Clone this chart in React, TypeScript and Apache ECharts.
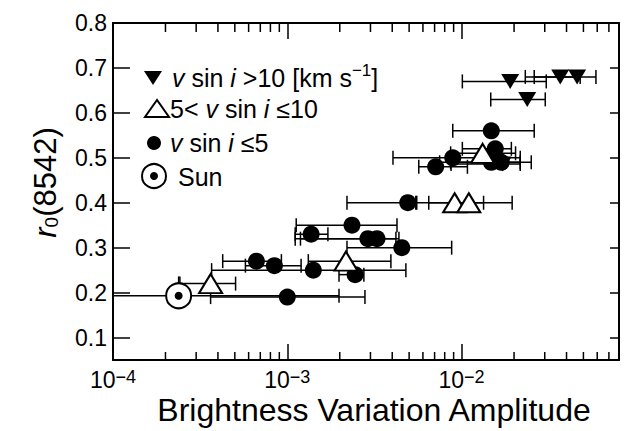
import { useEffect, useRef } from 'react';
import * as echarts from 'echarts';

// x tick exponents for labels (10^n)
const xMajorTicks = [1e-4, 1e-3, 1e-2];
const xMinorTicks = [
  2e-4, 3e-4, 4e-4, 5e-4, 6e-4, 7e-4, 8e-4, 9e-4,
  2e-3, 3e-3, 4e-3, 5e-3, 6e-3, 7e-3, 8e-3, 9e-3,
  2e-2, 3e-2, 4e-2, 5e-2, 6e-2, 7e-2,
];
const yTicks = [0.1, 0.2, 0.3, 0.4, 0.5, 0.6, 0.7, 0.8];

// [amplitude, r0, amplitude low, amplitude high]
const fastRotators = [
  [0.0172, 0.486, 0.0087, 0.0217],
  [0.019, 0.67, 0.0101, 0.0306],
  [0.0368, 0.68, 0.0232, 0.0479],
  [0.046, 0.68, 0.0261, 0.059],
  [0.0238, 0.63, 0.0147, 0.0302],
];
const midRotators = [
  [0.0132, 0.51, 0.00865, 0.0204],
  [0.00912, 0.40, 0.00553, 0.01337],
  [0.011, 0.40, 0.00648, 0.0195],
  [0.00217, 0.27, 0.00132, 0.00393],
  [0.000363, 0.22, 0.000242, 0.000505],
];
const slowRotators = [
  [0.0148, 0.56, 0.0089, 0.0261],
  [0.0156, 0.52, 0.0101, 0.0193],
  [0.0089, 0.50, 0.00404, 0.0217],
  [0.0148, 0.49, 0.00748, 0.0251],
  [0.0169, 0.49, 0.00865, 0.0217],
  [0.0071, 0.48, 0.00568, 0.0108],
  [0.00491, 0.40, 0.0022, 0.00546],
  [0.00235, 0.35, 0.001125, 0.00426],
  [0.00137, 0.33, 0.00111, 0.00171],
  [0.0029, 0.32, 0.00119, 0.0042],
  [0.00327, 0.32, 0.00111, 0.00437],
  [0.00454, 0.30, 0.0022, 0.00877],
  [0.000665, 0.27, 0.000426, 0.000925],
  [0.000843, 0.26, 0.000575, 0.0012],
  [0.00141, 0.25, 0.000368, 0.00479],
  [0.00245, 0.24, 0.00198, 0.00275],
  [0.001, 0.19, 0.000363, 0.00279],
];
// [amplitude, r0, amp low, amp high, r0 high]
const sunPoint = [[0.000238, 0.193, 0.00005, 0.00198, 0.236]];

const FONT = 'Liberation Sans, Arial, Helvetica, sans-serif';

export default function App() {
  const ref = useRef<HTMLDivElement>(null);
  useEffect(() => {
    if (!ref.current) return;
    const chart = echarts.init(ref.current, undefined, { renderer: 'svg' });
    const lineStyle = { stroke: '#000', lineWidth: 1.5 };
    const errRender = (params: any, api: any) => {
      const y = api.value(1);
      const p0 = api.coord([api.value(2), y]);
      const p1 = api.coord([api.value(3), y]);
      const h = 7;
      const children: any[] = [
        { type: 'line', shape: { x1: p0[0], y1: p0[1], x2: p1[0], y2: p1[1] }, style: lineStyle },
        { type: 'line', shape: { x1: p0[0], y1: p0[1] - h, x2: p0[0], y2: p0[1] + h }, style: lineStyle },
        { type: 'line', shape: { x1: p1[0], y1: p1[1] - h, x2: p1[0], y2: p1[1] + h }, style: lineStyle },
      ];
      if (api.value(4)) {
        const c = api.coord([api.value(0), y]);
        const t = api.coord([api.value(0), api.value(4)]);
        children.push({ type: 'line', shape: { x1: c[0], y1: c[1], x2: t[0], y2: t[1] }, style: lineStyle });
      }
      return { type: 'group', children };
    };
    const minorRender = (params: any, api: any) => {
      const x = api.coord([api.value(0), 0.5])[0];
      const cs = params.coordSys;
      const st = { stroke: '#000', lineWidth: 1.5 };
      return {
        type: 'group',
        children: [
          { type: 'line', shape: { x1: x, y1: cs.y + cs.height, x2: x, y2: cs.y + cs.height - 8 }, style: st },
          { type: 'line', shape: { x1: x, y1: cs.y, x2: x, y2: cs.y + 9 }, style: st },
        ],
      };
    };
    const legendRich = {
      it: { fontStyle: 'italic', fontSize: 25, fontFamily: FONT, fill: '#000' },
      sup: { fontSize: 17, fontFamily: FONT, verticalAlign: 'top', padding: [0, 0, 16, 0], fill: '#000' },
    };
    const legendText = (x: number, y: number, text: string) => ({
      type: 'text',
      x,
      y,
      style: {
        text,
        fontSize: 25,
        fontFamily: FONT,
        fill: '#000',
        verticalAlign: 'middle',
        textVerticalAlign: 'middle',
        rich: legendRich,
      },
    });
    const axisBase = {
      min: 1e-4,
      max: 0.08,
      logBase: 10,
      splitLine: { show: false },
      axisLine: { show: true, lineStyle: { color: '#000', width: 2 } },
    };
    const solid = (color: string, extra: any = {}) => ({ color, opacity: 1, ...extra });
    chart.setOption({
      animation: false,
      backgroundColor: '#fff',
      grid: { left: 113, right: 7, top: 23, bottom: 71, containLabel: false, outerBoundsMode: 'none' },
      xAxis: [
        {
          ...axisBase,
          type: 'log',
          position: 'bottom',
          axisTick: { show: true, inside: true, length: 16, lineStyle: { color: '#000', width: 1.5 } },
          axisLabel: {
            show: true,
            showMaxLabel: false,
            margin: 8,
            color: '#000',
            formatter: (v: number) => {
              const e = Math.round(Math.log10(v));
              return xMajorTicks.some((t) => Math.abs(Math.log10(t) - e) < 1e-6)
                ? `{b|10}{s|\u2212${Math.abs(e)}}`
                : '';
            },
            rich: {
              b: { fontSize: 23, fontFamily: FONT, color: '#000', lineHeight: 23, verticalAlign: 'bottom' },
              s: { fontSize: 18, fontFamily: FONT, color: '#000', lineHeight: 16, verticalAlign: 'top', padding: [0, 0, 12, 0] },
            },
          },
          name: 'Brightness Variation Amplitude',
          nameLocation: 'middle',
          nameGap: 37,
          nameMoveOverlap: false,
          nameTextStyle: { fontSize: 32, lineHeight: 26, fontFamily: FONT, color: '#000', padding: [0, 0, 0, 16] },
        },
        {
          ...axisBase,
          type: 'log',
          position: 'top',
          axisTick: { show: true, inside: true, length: 16, lineStyle: { color: '#000', width: 1.5 } },
          axisLabel: { show: false },
        },
      ],
      yAxis: [
        {
          type: 'value',
          min: 0.05,
          max: 0.8,
          position: 'left',
          splitLine: { show: false },
          axisLine: { show: true, lineStyle: { color: '#000', width: 2 } },
          axisTick: { show: true, inside: true, length: 17, customValues: yTicks, lineStyle: { color: '#000', width: 1.5 } },
          axisLabel: {
            show: true,
            customValues: yTicks,
            margin: 6,
            color: '#000',
            fontSize: 23,
            fontFamily: FONT,
            formatter: (v: number) => v.toFixed(1),
          },
          name: '{i|r}{sub|0}(8542)',
          nameLocation: 'middle',
          nameGap: 52,
          nameMoveOverlap: false,
          nameTextStyle: {
            fontSize: 31,
            fontFamily: FONT,
            color: '#000',
            padding: [0, 0, 0, 18],
            rich: {
              i: { fontStyle: 'italic', fontSize: 31, fontFamily: FONT, color: '#000' },
              sub: { fontSize: 19, fontFamily: FONT, color: '#000', verticalAlign: 'bottom', padding: [8, 0, 0, 0] },
            },
          },
        },
        {
          type: 'value',
          min: 0.05,
          max: 0.8,
          position: 'right',
          splitLine: { show: false },
          axisLine: { show: true, lineStyle: { color: '#000', width: 2 } },
          axisTick: { show: true, inside: true, length: 9, customValues: yTicks, lineStyle: { color: '#000', width: 1.5 } },
          axisLabel: { show: false },
        },
      ],
      series: [
        {
          type: 'custom',
          name: 'minorTicks',
          renderItem: minorRender,
          data: xMinorTicks.map((v) => [v, 0.5]),
          encode: { x: 0, y: 1 },
          clip: false,
          silent: true,
          z: 1,
        },
        {
          type: 'custom',
          name: 'errFast',
          renderItem: errRender,
          data: fastRotators,
          encode: { x: 0, y: 1 },
          clip: true,
          silent: true,
          z: 2,
        },
        {
          type: 'custom',
          name: 'errMid',
          renderItem: errRender,
          data: midRotators,
          encode: { x: 0, y: 1 },
          clip: true,
          silent: true,
          z: 2,
        },
        {
          type: 'custom',
          name: 'errSlow',
          renderItem: errRender,
          data: slowRotators,
          encode: { x: 0, y: 1 },
          clip: true,
          silent: true,
          z: 2,
        },
        {
          type: 'custom',
          name: 'errSun',
          renderItem: errRender,
          data: sunPoint,
          encode: { x: 0, y: 1 },
          clip: true,
          silent: true,
          z: 2,
        },
        {
          type: 'scatter',
          name: 'fast',
          data: fastRotators.map((d) => [d[0], d[1]]),
          symbol: 'triangle',
          symbolRotate: 180,
          symbolSize: [18, 15],
          itemStyle: solid('#000'),
          z: 3,
        },
        {
          type: 'scatter',
          name: 'slow',
          data: slowRotators.map((d) => [d[0], d[1]]),
          symbol: 'circle',
          symbolSize: 17,
          itemStyle: solid('#000'),
          z: 4,
        },
        {
          type: 'scatter',
          name: 'mid',
          data: midRotators.map((d) => [d[0], d[1]]),
          symbol: 'triangle',
          symbolSize: [23, 19],
          itemStyle: solid('#fff', { borderColor: '#000', borderWidth: 2 }),
          z: 5,
        },
        {
          type: 'scatter',
          name: 'sun',
          data: sunPoint.map((d) => [d[0], d[1]]),
          symbol: 'circle',
          symbolSize: 25,
          itemStyle: solid('#fff', { borderColor: '#000', borderWidth: 2 }),
          z: 5,
        },
        {
          type: 'scatter',
          name: 'sunDot',
          data: sunPoint.map((d) => [d[0], d[1]]),
          symbol: 'circle',
          symbolSize: 8,
          itemStyle: solid('#000'),
          z: 6,
        },
      ],
      graphic: [
        { type: 'polygon', shape: { points: [[144, 71], [162, 71], [153, 85]] }, style: { fill: '#000' } },
        legendText(172, 78, '{it|v} sin {it|i} >10 [km s{sup|\u22121}]'),
        { type: 'polygon', shape: { points: [[145, 117], [169, 117], [157, 100]] }, style: { fill: '#fff', stroke: '#000', lineWidth: 2 } },
        legendText(170, 109, '5< {it|v} sin {it|i} \u226410'),
        { type: 'circle', shape: { cx: 154, cy: 143, r: 7 }, style: { fill: '#000' } },
        legendText(170, 143, '{it|v} sin {it|i} \u22645'),
        { type: 'circle', shape: { cx: 154, cy: 176, r: 12 }, style: { fill: '#fff', stroke: '#000', lineWidth: 2 } },
        { type: 'circle', shape: { cx: 154, cy: 176, r: 4 }, style: { fill: '#000' } },
        legendText(178, 177, 'Sun'),
      ],
    });
    return () => chart.dispose();
  }, []);
  return <div ref={ref} style={{ position: 'fixed', left: 0, top: 0, width: 626, height: 431 }} />;
}
